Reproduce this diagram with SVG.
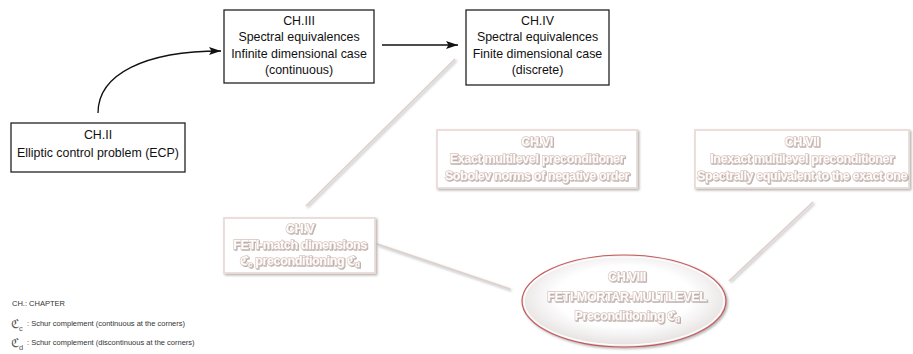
<svg xmlns="http://www.w3.org/2000/svg" width="913" height="354" viewBox="0 0 913 354">
<defs>
<style>
.bx{fill:#fff;stroke:#222;stroke-width:1.3}
.t{font-family:"Liberation Sans",Arial,sans-serif;font-size:12.4px;fill:#111;text-anchor:middle}
.fb{fill:#fff;stroke:#eadcd8;stroke-width:1.8;filter:url(#sh)}
.ft{font-family:"Liberation Sans",Arial,sans-serif;font-weight:bold;font-size:12.6px;fill:#fffdfc;stroke:#d9c5bf;stroke-width:1.3;paint-order:stroke;text-anchor:middle;filter:url(#tsh);letter-spacing:-0.4px}
.fl{stroke:#ddd0cc;stroke-width:1.7;fill:none;filter:url(#sh)}
.lg{font-family:"Liberation Sans",Arial,sans-serif;font-size:7.5px;fill:#333}
.sym{font-family:"DejaVu Sans",serif;font-size:12px;fill:#555}
.sub{font-family:"Liberation Sans",Arial,sans-serif;font-size:7.5px;fill:#555}
</style>
<filter id="sh" x="-10%" y="-10%" width="130%" height="130%">
<feDropShadow dx="1.5" dy="1.5" stdDeviation="1" flood-color="#7a7272" flood-opacity="0.55"/>
</filter>
<filter id="tsh" x="-5%" y="-20%" width="115%" height="150%">
<feDropShadow dx="0.9" dy="0.9" stdDeviation="0.6" flood-color="#6e6262" flood-opacity="0.55"/>
</filter>
<radialGradient id="eg" cx="50%" cy="45%" r="55%">
<stop offset="0.6" stop-color="#ffffff"/>
<stop offset="1" stop-color="#e4dfdf"/>
</radialGradient>
<marker id="ah" viewBox="0 0 12 8" refX="12" refY="4" markerWidth="12" markerHeight="8" markerUnits="userSpaceOnUse" orient="auto">
<path d="M0,0 L12,4 L0,8 L2.5,4 Z" fill="#111"/>
</marker>
</defs>

<g id="connectors">
<path d="M98,113 C98,74 145,51 221,51" fill="none" stroke="#111" stroke-width="1.3" marker-end="url(#ah)"/>
<line x1="382" y1="45" x2="458" y2="45" stroke="#111" stroke-width="1.3" marker-end="url(#ah)"/>
<line class="fl" x1="455" y1="59" x2="306" y2="206"/>
<line class="fl" x1="536" y1="91" x2="536" y2="110"/>
<line class="fl" x1="645" y1="161" x2="680" y2="161"/>
<line class="fl" x1="377" y1="244" x2="510" y2="289"/>
<line class="fl" x1="813" y1="202" x2="729" y2="281"/>
</g>

<g id="ch2">
<rect class="bx" x="11" y="123" width="174" height="49"/>
<text class="t" x="98" y="139">CH.II</text>
<text class="t" x="98" y="157">Elliptic control problem (ECP)</text>
</g>

<g id="ch3">
<rect class="bx" x="224" y="10" width="150" height="73"/>
<text class="t" x="299" y="25">CH.III</text>
<text class="t" x="299" y="41">Spectral equivalences</text>
<text class="t" x="299" y="58">Infinite dimensional case</text>
<text class="t" x="299" y="74">(continuous)</text>
</g>

<g id="ch4">
<rect class="bx" x="466" y="10" width="143" height="75"/>
<text class="t" x="537.5" y="25">CH.IV</text>
<text class="t" x="537.5" y="41">Spectral equivalences</text>
<text class="t" x="537.5" y="58">Finite dimensional case</text>
<text class="t" x="537.5" y="74">(discrete)</text>
</g>

<g id="ch5">
<rect class="fb" x="224" y="218" width="151" height="55"/>
<text class="ft" x="300" y="233">CH.V</text>
<text class="ft" x="300" y="249">FETI-match dimensions</text>
<text class="ft" x="300" y="265">ℭ<tspan font-size="8" dy="2">c</tspan><tspan dy="-2">  preconditioning  ℭ</tspan><tspan font-size="8" dy="2">d</tspan></text>
</g>

<g id="ch6">
<rect class="fb" x="437" y="130" width="200" height="58"/>
<text class="ft" x="537" y="146">CH.VI</text>
<text class="ft" x="537" y="163">Exact multilevel preconditioner</text>
<text class="ft" x="537" y="180">Sobolev norms of negative order</text>
</g>

<g id="ch7">
<rect class="fb" x="695" y="130" width="214" height="58"/>
<text class="ft" x="802" y="146">CH.VII</text>
<text class="ft" x="802" y="163">Inexact multilevel preconditioner</text>
<text class="ft" x="802" y="180">Spectrally equivalent to the exact one</text>
</g>

<g id="ch8">
<ellipse cx="624" cy="301" rx="102" ry="46" fill="url(#eg)" stroke="#c8585a" stroke-width="1.2" filter="url(#sh)"/>
<ellipse cx="624" cy="301" rx="100" ry="44" fill="none" stroke="#ffffff" stroke-width="1.2"/>
<text class="ft" x="627" y="281">CH.VIII</text>
<text class="ft" x="627" y="301">FETI-MORTAR-MULTILEVEL</text>
<text class="ft" x="627" y="320">Preconditioning ℭ<tspan font-size="8" dy="2">d</tspan></text>
</g>

<g id="legend">
<text class="lg" x="12" y="306">CH.: CHAPTER</text>
<text class="sym" x="11" y="328">ℭ</text><text class="sub" x="19" y="331">c</text>
<text class="lg" x="27" y="326">: Schur complement (continuous at the corners)</text>
<text class="sym" x="11" y="347">ℭ</text><text class="sub" x="19" y="350">d</text>
<text class="lg" x="27" y="345">: Schur complement (discontinuous at the corners)</text>
</g>
</svg>
